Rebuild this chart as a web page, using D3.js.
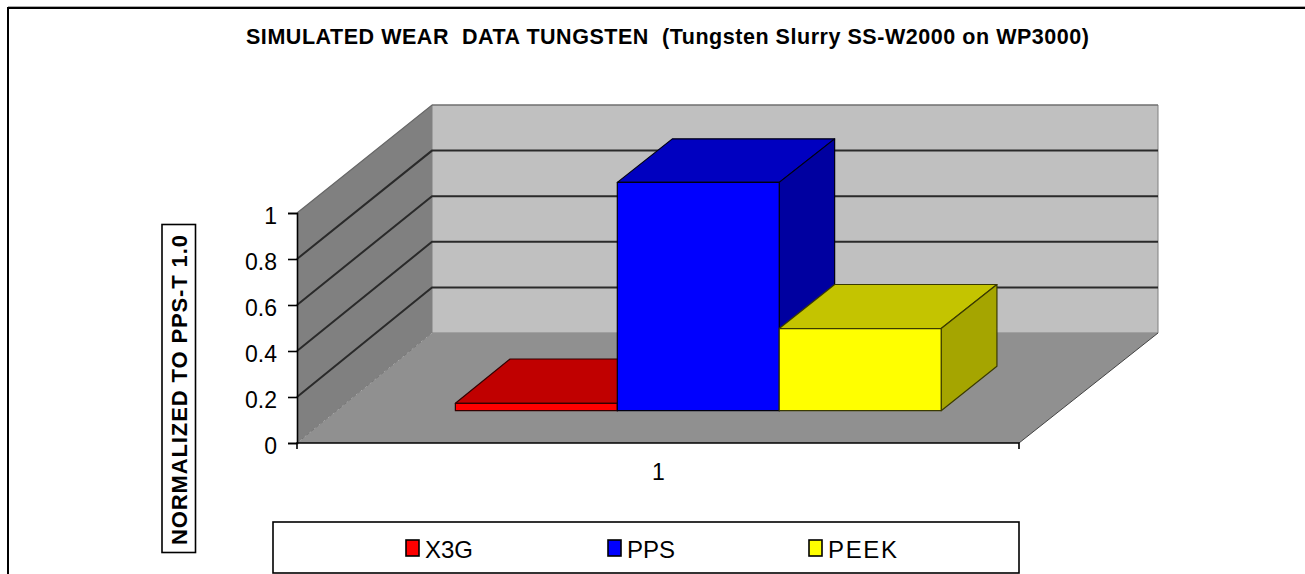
<!DOCTYPE html>
<html>
<head>
<meta charset="utf-8">
<script src="https://cdn.jsdelivr.net/npm/d3@7"></script>
<style>
  html, body { margin: 0; background: #fff; }
  svg { display: block; }
  text { font-family: "Liberation Sans", Arial, sans-serif; fill: #000; }
</style>
</head>
<body>
<div id="chart"></div>
<script>
const titleText = "SIMULATED WEAR  DATA TUNGSTEN  (Tungsten Slurry SS-W2000 on WP3000)"
const yAxisTitle = "NORMALIZED TO PPS-T 1.0"

const categories = ["1"]
const seriesNames = ["X3G", "PPS", "PEEK"]
const seriesValues = [0.032, 0.995, 0.358]
const yTicks = [0, 0.2, 0.4, 0.6, 0.8, 1]

const frontColors = ["#ff0000", "#0000ff", "#ffff00"]
const topColors = ["#c00000", "#0000c0", "#c4c400"]
const sideColors = ["#a00000", "#0000a0", "#a5a500"]
const strokeColors = ["#300", "#001", "#3a3a00"]

const width = 1305, height = 574

const svg = d3.select("#chart").append("svg")
    .attr("width", width)
    .attr("height", height)

// outer chart border, only top and left are in the shot
svg.append("path")
    .attr("d", `M8,${height}V8H${width}`)
    .attr("fill", "none")
    .attr("stroke", "#000")
    .attr("stroke-width", 2)
svg.append("line")
    .attr("x1", 8).attr("x2", width).attr("y1", 6.5).attr("y2", 6.5)
    .attr("stroke", "#aaa")

svg.append("text")
    .attr("x", 246)
    .attr("y", 44)
    .attr("xml:space", "preserve")
    .attr("textLength", 843)
    .attr("lengthAdjust", "spacing")
    .style("font-size", "21.5px")
    .style("font-weight", "bold")
    .style("white-space", "pre")
    .text(titleText)

// the plot is a box: d=0 is the front plane, d=1 the back wall
const y = d3.scaleLinear().domain([0, 1]).range([443, 213])
const xFront = d3.scaleLinear().domain([297, 1019]).range([135, 139])
const rise = d3.scaleLinear().domain([0, 1]).range([110, 108])

const px = (x, d) => x + d * xFront(x)
const py = (v, d) => y(v) - d * rise(v)
const poly = pts => pts.map(p => p.join(",")).join(" ")

const x0 = d3.scaleBand().domain(categories).range([297, 1019]).paddingInner(0).paddingOuter(0.2443)
const x1 = d3.scaleBand().domain(seriesNames).range([x0(categories[0]), x0(categories[0]) + x0.bandwidth()])

const plotL = 297, plotR = 1019

// left wall
svg.append("polygon")
    .attr("points", poly([[px(plotL, 0), py(0, 0)], [px(plotL, 1), py(0, 1)], [px(plotL, 1), py(1, 1)], [px(plotL, 0), py(1, 0)]]))
    .attr("fill", "#808080")

// back wall
svg.append("polygon")
    .attr("points", poly([[px(plotL, 1), py(0, 1)], [px(plotR, 1), py(0, 1)], [px(plotR, 1), py(1, 1)], [px(plotL, 1), py(1, 1)]]))
    .attr("fill", "#c0c0c0")
    .attr("stroke", "#808080")

// floor
svg.append("polygon")
    .attr("points", poly([[px(plotL, 0), py(0, 0)], [px(plotR, 0), py(0, 0)], [px(plotR, 1), py(0, 1)], [px(plotL, 1), py(0, 1)]]))
    .attr("fill", "#909090")
svg.append("line")
    .attr("x1", px(plotR, 0)).attr("y1", py(0, 0))
    .attr("x2", px(plotR, 1)).attr("y2", py(0, 1))
    .attr("stroke", "#444")
svg.append("line")
    .attr("x1", px(plotL, 0)).attr("y1", py(0, 0))
    .attr("x2", px(plotL, 1)).attr("y2", py(0, 1))
    .attr("stroke", "#777")
    .attr("stroke-dasharray", "4,2")

// gridlines along the left wall and back wall
svg.append("g").selectAll("path")
    .data(yTicks.slice(1))
    .enter()
    .append("path")
        .attr("d", v => `M${px(plotL, 0)},${py(v, 0)}L${px(plotL, 1)},${py(v, 1)}H${px(plotR, 1)}`)
        .attr("fill", "none")
        .attr("stroke", v => v === 1 ? "#666" : "#2a2a2a")
        .attr("stroke-width", v => v === 1 ? 1.2 : 2)

// bars, back to front left to right
const dNear = 0.294, dFar = 0.697
const bars = svg.append("g").selectAll("g")
    .data(seriesValues)
    .enter()
    .append("g")
        .attr("stroke", (d, i) => strokeColors[i])
        .attr("stroke-width", 1.2)
        .attr("stroke-linejoin", "round")

bars.append("polygon")
    .attr("points", (v, i) => {
        const a = x1(seriesNames[i]), b = a + x1.bandwidth()
        return poly([[px(a, dNear), py(v, dNear)], [px(b, dNear), py(v, dNear)], [px(b, dFar), py(v, dFar)], [px(a, dFar), py(v, dFar)]])
    })
    .attr("fill", (d, i) => topColors[i])

bars.append("polygon")
    .attr("points", (v, i) => {
        const b = x1(seriesNames[i]) + x1.bandwidth()
        return poly([[px(b, dNear), py(0, dNear)], [px(b, dFar), py(0, dFar)], [px(b, dFar), py(v, dFar)], [px(b, dNear), py(v, dNear)]])
    })
    .attr("fill", (d, i) => sideColors[i])

bars.append("polygon")
    .attr("points", (v, i) => {
        const a = x1(seriesNames[i]), b = a + x1.bandwidth()
        return poly([[px(a, dNear), py(0, dNear)], [px(b, dNear), py(0, dNear)], [px(b, dNear), py(v, dNear)], [px(a, dNear), py(v, dNear)]])
    })
    .attr("fill", (d, i) => frontColors[i])

// axes
const yAxis = svg.append("g")
    .attr("transform", `translate(${plotL},0)`)
    .call(d3.axisLeft(y).tickValues(yTicks).tickFormat(d3.format("~g")).tickSize(9).tickPadding(11))
yAxis.selectAll("text").style("font-size", "23px").attr("dy", "0.44em")
yAxis.selectAll("path, line").attr("stroke", "#000").attr("stroke-width", 1.6)

const xAxis = svg.append("g")
    .attr("transform", `translate(0,${y(0)})`)
    .call(d3.axisBottom(d3.scalePoint().domain(categories).range([658, 658])).tickSize(0).tickPadding(21))
xAxis.select("path").remove()
xAxis.selectAll("text").style("font-size", "23px")

svg.append("path")
    .attr("d", `M${plotL},${y(0) + 6}V${y(0)}H${plotR}V${y(0) + 6}`)
    .attr("fill", "none")
    .attr("stroke", "#000")
    .attr("stroke-width", 1.6)

// y axis title in its box
svg.append("rect")
    .attr("x", 162).attr("y", 224.5)
    .attr("width", 33.5).attr("height", 328)
    .attr("fill", "#fff")
    .attr("stroke", "#000")
    .attr("stroke-width", 1.6)
svg.append("text")
    .attr("transform", "translate(186.5,545) rotate(-90)")
    .attr("textLength", 310)
    .style("font-size", "22px")
    .style("font-weight", "bold")
    .text(yAxisTitle)

// legend
svg.append("rect")
    .attr("x", 273).attr("y", 522)
    .attr("width", 746).attr("height", 51)
    .attr("fill", "#fff")
    .attr("stroke", "#000")
    .attr("stroke-width", 1.6)

const legendX = d3.scaleOrdinal().domain(seriesNames).range([406, 608, 809])
const legendItems = svg.append("g").selectAll("g")
    .data(seriesNames)
    .enter()
    .append("g")
        .attr("transform", d => `translate(${legendX(d)},540)`)

legendItems.append("rect")
    .attr("width", 13)
    .attr("height", 16)
    .attr("fill", (d, i) => frontColors[i])
    .attr("stroke", "#000")
    .attr("stroke-width", 1.6)

// PEEK is set wider than the others in the original
legendItems.append("text")
    .attr("x", 19)
    .attr("y", 18)
    .attr("textLength", d => d === "PEEK" ? 69 : 48)
    .style("font-size", "24px")
    .text(d => d)
</script>
</body>
</html>
